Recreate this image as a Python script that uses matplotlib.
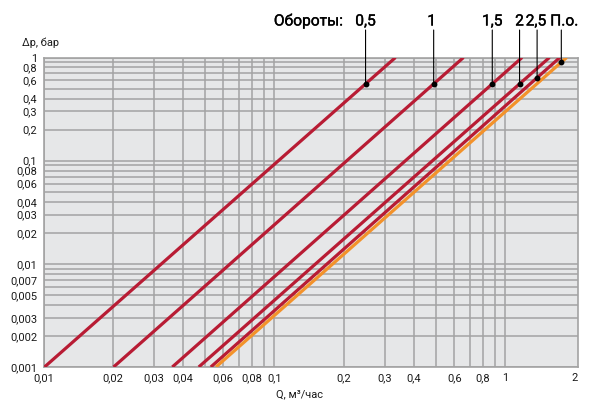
import numpy as np
import matplotlib
matplotlib.use("Agg")
import matplotlib.pyplot as plt
import matplotlib.patheffects as pe

plt.rcParams['font.family'] = ['Roboto', 'DejaVu Sans']

# ---- data ----
series_labels = ["0,5", "1", "1,5", "2", "2,5", "П.о."]
series_colors = ["#b81c34", "#b81c34", "#b81c34", "#b81c34", "#b81c34", "#f3922a"]
dp_range = [0.001, 1.0]                       # Δp at line ends, бар
q_at_dp_min = [0.0101, 0.0201, 0.0361, 0.047, 0.053, 0.0558]   # Q at Δp=0.001
q_at_dp_max = [0.334, 0.658, 1.18, 1.55, 1.72, 1.84]           # Q at Δp=1
marker_dp = [0.555, 0.555, 0.555, 0.555, 0.637, 0.90]          # Δp of label dots

x_ticks = [0.01, 0.02, 0.03, 0.04, 0.06, 0.08, 0.1, 0.2, 0.3, 0.4, 0.6, 0.8, 1, 2]
x_ticklabels = ["0,01", "0,02", "0,03", "0,04", "0,06", "0,08", "0,1",
                "0,2", "0,3", "0,4", "0,6", "0,8", "1", "2"]
y_ticks = [1, 0.8, 0.6, 0.4, 0.3, 0.2, 0.1, 0.08, 0.06, 0.04, 0.03, 0.02,
           0.01, 0.007, 0.005, 0.003, 0.002, 0.001]
y_ticklabels = ["1", "0,8", "0,6", "0,4", "0,3", "0,2", "0,1", "0,08", "0,06",
                "0,04", "0,03", "0,02", "0,01", "0,007", "0,005", "0,003",
                "0,002", "0,001"]
x_grid = [0.01, 0.02, 0.03, 0.04, 0.05, 0.06, 0.07, 0.08, 0.09, 0.1,
          0.2, 0.3, 0.4, 0.5, 0.6, 0.7, 0.8, 0.9, 1.0]
y_grid = [m * d for d in (0.001, 0.01, 0.1) for m in range(1, 10)] + [1.0]

header = "Обороты:"
xlabel = "Q, м³/час"
ylabel = "Δp, бар"

# ---- figure ----
W, H = 593, 404
fig = plt.figure(figsize=(W / 100, H / 100), dpi=100)
ax = fig.add_axes([43.5 / W, 1 - 367 / H, 534 / W, (367 - 57.5) / H])
ax.set_xscale('log')
ax.set_yscale('log')
ax.set_xlim(0.01, 2.05)
ax.set_ylim(0.001, 1)
ax.set_facecolor("#e6e7e8")

grid_color = "#a3a3a3"
for gx in x_grid:
    ax.axvline(gx, color=grid_color, lw=1.1, zorder=1)
for gy in y_grid:
    ax.axhline(gy, color=grid_color, lw=1.1, zorder=1)

for s in ax.spines.values():
    s.set_color(grid_color)
    s.set_linewidth(1.2)

tick_fs = 7.9
ax.set_xticks(x_ticks)
ax.set_xticklabels(x_ticklabels)
ax.set_yticks(y_ticks)
ax.set_yticklabels(y_ticklabels)
ax.minorticks_off()
ax.tick_params(axis='both', length=0, labelsize=tick_fs, colors="#1a1a1a")
ax.tick_params(axis='x', pad=4.5)
ax.tick_params(axis='y', pad=4.5)
for lab in ax.get_yticklabels():
    lab.set_linespacing(1.0)

# lines
for i in range(len(series_labels)):
    ax.plot([q_at_dp_min[i], q_at_dp_max[i]], dp_range,
            color=series_colors[i], lw=2.3, solid_capstyle='butt', zorder=3)

head_fx = [pe.withStroke(linewidth=0.25, foreground='black')]
head_fs = 11.2
label_dx = [0, -2, 0, 0, -1, 3]   # small text nudges in pixels

# markers with leaders and labels
label_y = 1 - 25.5 / H
for i, lab in enumerate(series_labels):
    lq0, lq1 = np.log10(q_at_dp_min[i]), np.log10(q_at_dp_max[i])
    ld0, ld1 = np.log10(dp_range[0]), np.log10(dp_range[1])
    frac = (np.log10(marker_dp[i]) - ld0) / (ld1 - ld0)
    qm = 10 ** (lq0 + frac * (lq1 - lq0))
    ax.plot([qm], [marker_dp[i]], 'o', color='black', ms=3.2, zorder=5)
    ax.annotate("", xy=(qm, marker_dp[i]), xycoords='data',
                xytext=(qm, 1 - 30 / H), textcoords=('data', 'figure fraction'),
                arrowprops=dict(arrowstyle='-', lw=0.8, color='black',
                                shrinkA=0, shrinkB=0),
                annotation_clip=False, zorder=4)
    t = ax.annotate(lab, xy=(qm, label_y), xycoords=('data', 'figure fraction'),
                    xytext=(label_dx[i] * 0.72, 0), textcoords='offset points',
                    ha='center', va='baseline', fontsize=head_fs,
                    color='black', annotation_clip=False)
    t.set_path_effects(head_fx)

t = fig.text(343 / W, label_y, header, ha='right', va='baseline', fontsize=head_fs,
             color='black')
t.set_path_effects(head_fx)
fig.text(22.5 / W, 1 - 46.5 / H, ylabel, ha='left', va='baseline',
         fontsize=tick_fs, color="#1a1a1a")
fig.text(300 / W, 1 - 397.5 / H, xlabel, ha='center', va='baseline',
         fontsize=tick_fs, color="#1a1a1a")

fig.savefig("out.png", dpi=100)
